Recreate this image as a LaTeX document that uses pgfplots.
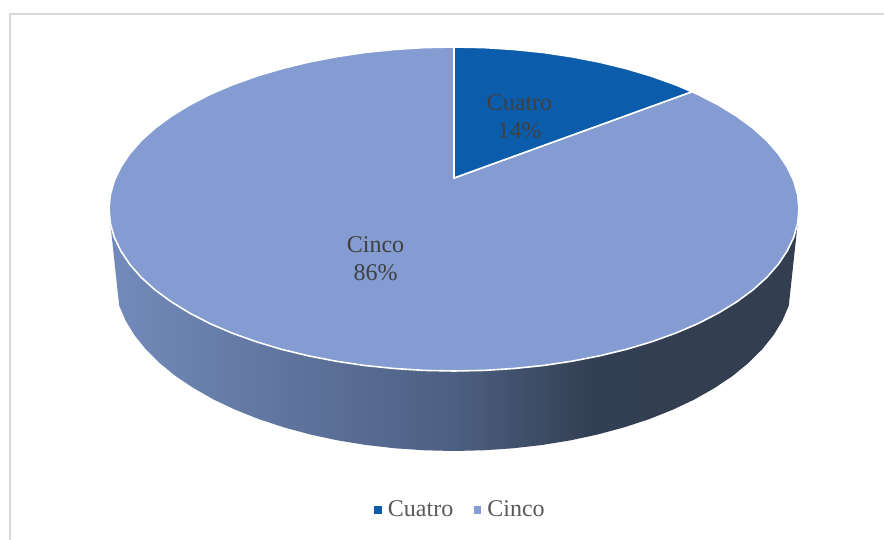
\documentclass[border=0pt]{standalone}
\usepackage{pgfplots}
\pgfplotsset{compat=1.18}
\usepackage{fontspec}
\setmainfont{Liberation Serif}
\definecolor{cuatro}{HTML}{0B5CAB}
\definecolor{cinco}{HTML}{849CD2}
\definecolor{labeltext}{HTML}{404040}
\definecolor{legendtext}{HTML}{595959}
\definecolor{framegray}{HTML}{D9D9D9}
\definecolor{wallA}{HTML}{738BBB}
\definecolor{wallB}{HTML}{4D5F82}
\definecolor{wallC}{HTML}{333F52}
\definecolor{wallD}{HTML}{333F50}
% Wall of the pie: light on the left, dark from about two thirds of the way across
\pgfdeclarehorizontalshading{pieside}{100bp}{
  color(0bp)=(wallA);
  color(25bp)=(wallA);
  color(50bp)=(wallB);
  color(60bp)=(wallC);
  color(75bp)=(wallD);
  color(100bp)=(wallD)}
\begin{document}
\begin{tikzpicture}
\begin{axis}[
  width=884pt, height=540pt, scale only axis,
  xmin=0, xmax=884, ymin=0, ymax=540, y dir=reverse,
  hide axis,
  legend columns=2,
  legend style={at={(axis cs:460.5,509.5)}, anchor=center, draw=none, fill=none,
    font=\fontsize{24}{28}\selectfont, text=legendtext,
    /tikz/every odd column/.append style={column sep=5pt},
    /tikz/every even column/.append style={column sep=18.5pt},
    inner sep=0pt},
]
% chart frame, open towards the right and bottom edges
\addplot[forget plot, framegray, line width=2pt] coordinates {(9.5,540) (9.5,14) (884,14)};

% wall below the front half of the rim
\addplot[forget plot, draw=none, shade, shading=pieside] coordinates {
  (797.7,223.1) (788.8,305.6) (782.4,320.6) (773.5,335.2) (762.1,349.4)
  (748.4,363) (732.5,376) (714.4,388.1) (694.4,399.5) (672.6,409.8)
  (649,419.2) (624,427.4) (597.7,434.5) (570.3,440.4) (542,445)
  (513,448.3) (483.6,450.3) (454,451) (424.4,450.3) (395,448.3)
  (366,445) (337.7,440.4) (310.3,434.5) (284,427.4) (259,419.2)
  (235.4,409.8) (213.6,399.5) (193.6,388.1) (175.5,376) (159.6,363)
  (145.9,349.4) (134.5,335.2) (125.6,320.6) (119.2,305.6) (110.3,223.1)
  (454,209)} -- cycle;

% Cinco, 86%
\addplot[forget plot, fill=cinco, draw=white, line width=1.6pt, line join=round] coordinates {
  (454,178) (692,91.7) (698,94.4) (718.3,104.9) (736.6,116.1) (752.8,128)
  (766.7,140.5) (778.2,153.6) (787.2,167.1) (793.8,180.9) (797.7,194.9)
  (799,209) (797.7,223.1) (793.8,237.1) (787.2,250.9) (778.2,264.4)
  (766.7,277.5) (752.8,290) (736.6,301.9) (718.3,313.1) (698,323.6)
  (675.8,333.1) (651.9,341.7) (626.5,349.3) (599.8,355.8) (572,361.2)
  (543.3,365.5) (513.9,368.5) (484.1,370.4) (454,371) (423.9,370.4)
  (394.1,368.5) (364.7,365.5) (336,361.2) (308.2,355.8) (281.5,349.3)
  (256.1,341.7) (232.2,333.1) (210,323.6) (189.7,313.1) (171.4,301.9)
  (155.2,290) (141.3,277.5) (129.8,264.4) (120.8,250.9) (114.2,237.1)
  (110.3,223.1) (109,209) (110.3,194.9) (114.2,180.9) (120.8,167.1)
  (129.8,153.6) (141.3,140.5) (155.2,128) (171.4,116.1) (189.7,104.9)
  (210,94.4) (232.2,84.9) (256.1,76.3) (281.5,68.7) (308.2,62.2)
  (336,56.8) (364.7,52.5) (394.1,49.5) (423.9,47.6) (454,47)} -- cycle;

% Cuatro, 14%
\addplot[forget plot, fill=cuatro, draw=white, line width=1.6pt, line join=round] coordinates {
  (454,178) (454,47) (484.1,47.6) (513.9,49.5) (543.3,52.5) (572,56.8)
  (599.8,62.2) (626.5,68.7) (651.9,76.3) (675.8,84.9) (692,91.7)} -- cycle;

% slice labels
\node[align=center, text=labeltext, font=\fontsize{24}{27.5}\selectfont]
  at (axis cs:519.5,116.5) {Cuatro\\14\%};
\node[align=center, text=labeltext, font=\fontsize{24}{27.5}\selectfont]
  at (axis cs:375.5,258.5) {Cinco\\86\%};

% legend
\addlegendimage{only marks, mark=square*, mark size=3.3pt, mark options={draw=cuatro, fill=cuatro}}
\addlegendentry{Cuatro}
\addlegendimage{only marks, mark=square*, mark size=3.3pt, mark options={draw=cinco, fill=cinco}}
\addlegendentry{Cinco}
\end{axis}
% the page spans the full plotting area
\pgfresetboundingbox
\useasboundingbox (current axis.south west) rectangle (current axis.north east);
\end{tikzpicture}
\end{document}
